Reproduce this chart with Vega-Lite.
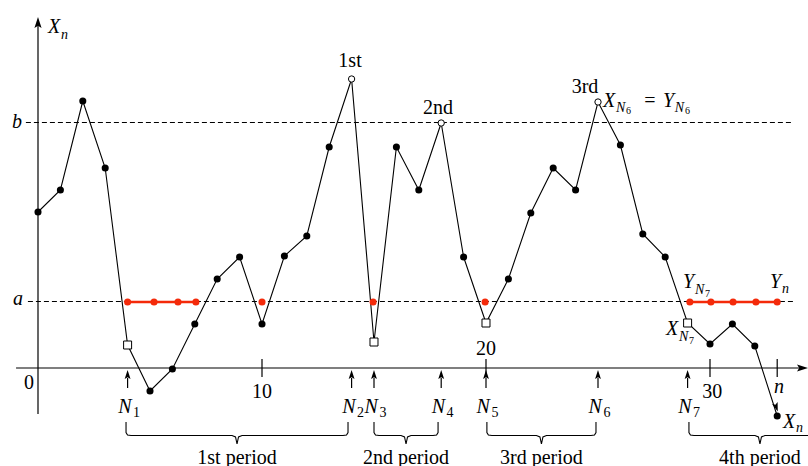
{
  "$schema": "https://vega.github.io/schema/vega-lite/v6.json",
  "width": 808,
  "height": 466,
  "autosize": {"type": "none"},
  "padding": 0,
  "background": "white",
  "config": {"view": {"stroke": null}},
  "datasets": {
    "series": [
      {"n": 0, "v": 15.6, "k": "dot"}, {"n": 1, "v": 17.8, "k": "dot"}, {"n": 2, "v": 26.7, "k": "dot"},
      {"n": 3, "v": 20.0, "k": "dot"}, {"n": 4, "v": 2.3, "k": "low"}, {"n": 5, "v": -2.3, "k": "dot"},
      {"n": 6, "v": -0.1, "k": "dot"}, {"n": 7, "v": 4.4, "k": "dot"}, {"n": 8, "v": 8.9, "k": "dot"},
      {"n": 9, "v": 11.1, "k": "dot"}, {"n": 10, "v": 4.4, "k": "dot"}, {"n": 11, "v": 11.2, "k": "dot"},
      {"n": 12, "v": 13.2, "k": "dot"}, {"n": 13, "v": 22.1, "k": "dot"}, {"n": 14, "v": 28.9, "k": "peak"},
      {"n": 15, "v": 2.6, "k": "low"}, {"n": 16, "v": 22.1, "k": "dot"}, {"n": 17, "v": 17.8, "k": "dot"},
      {"n": 18, "v": 24.5, "k": "peak"}, {"n": 19, "v": 11.1, "k": "dot"}, {"n": 20, "v": 4.5, "k": "low"},
      {"n": 21, "v": 8.9, "k": "dot"}, {"n": 22, "v": 15.5, "k": "dot"}, {"n": 23, "v": 20.0, "k": "dot"},
      {"n": 24, "v": 17.8, "k": "dot"}, {"n": 25, "v": 26.6, "k": "peak"}, {"n": 26, "v": 22.3, "k": "dot"},
      {"n": 27, "v": 13.4, "k": "dot"}, {"n": 28, "v": 11.1, "k": "dot"}, {"n": 29, "v": 4.5, "k": "low"},
      {"n": 30, "v": 2.4, "k": "dot"}, {"n": 31, "v": 4.4, "k": "dot"}, {"n": 32, "v": 2.2, "k": "dot"},
      {"n": 33, "v": -4.8, "k": "dot"}
    ],
    "red": [
      {"n": 4.0, "v": 6.6, "seg": 1}, {"n": 5.18, "v": 6.6, "seg": 1}, {"n": 6.25, "v": 6.6, "seg": 1},
      {"n": 7.05, "v": 6.6, "seg": 1}, {"n": 10, "v": 6.6, "seg": 0}, {"n": 14.96, "v": 6.6, "seg": 0},
      {"n": 19.96, "v": 6.6, "seg": 0}, {"n": 29.1, "v": 6.6, "seg": 2}, {"n": 30.04, "v": 6.6, "seg": 2},
      {"n": 31.03, "v": 6.6, "seg": 2}, {"n": 32.05, "v": 6.6, "seg": 2}, {"n": 33.0, "v": 6.6, "seg": 2}
    ],
    "dashed": [
      {"n": -0.54, "n2": 33.7, "v": 24.55, "v2": 24.55},
      {"n": -0.45, "n2": 33.8, "v": 6.65, "v2": 6.65}
    ],
    "rules": [
      {"n": 0, "n2": 0, "v": -4.6, "v2": 34.3},
      {"n": -0.98, "n2": 34.0, "v": 0, "v2": 0},
      {"n": 10, "n2": 10, "v": -0.9, "v2": 0.9},
      {"n": 20, "n2": 20, "v": -0.9, "v2": 0.9},
      {"n": 30, "n2": 30, "v": -0.9, "v2": 0.9},
      {"n": 33, "n2": 33, "v": -0.9, "v2": 0.9},
      {"n": 4, "n2": 4, "v": -2.0, "v2": -1.0},
      {"n": 14, "n2": 14, "v": -2.0, "v2": -1.0},
      {"n": 15, "n2": 15, "v": -2.0, "v2": -1.0},
      {"n": 18, "n2": 18, "v": -2.0, "v2": -1.0},
      {"n": 20, "n2": 20, "v": -2.0, "v2": -1.0},
      {"n": 25, "n2": 25, "v": -2.0, "v2": -1.0},
      {"n": 29, "n2": 29, "v": -2.0, "v2": -1.0}
    ],
    "narrows": [
      {"n": 4, "v": -0.65}, {"n": 14, "v": -0.65}, {"n": 15, "v": -0.65}, {"n": 18, "v": -0.65},
      {"n": 20, "v": -0.65}, {"n": 25, "v": -0.65}, {"n": 29, "v": -0.65}
    ],
    "yarrow": [{"n": 0, "v": 34.55}],
    "xarrow": [{"n": 34.13, "v": 0}],
    "endarrow": [{"n": 32.96, "v": -3.92}],
    "braces": [
      {"b": 1, "i": 0, "n": 3.93, "v": -5.4}, {"b": 1, "i": 1, "n": 3.93, "v": -6.45}, {"b": 1, "i": 2, "n": 3.997, "v": -6.7},
      {"b": 1, "i": 3, "n": 4.153, "v": -6.75}, {"b": 1, "i": 4, "n": 8.662, "v": -6.75}, {"b": 1, "i": 5, "n": 8.818, "v": -6.9},
      {"b": 1, "i": 6, "n": 8.885, "v": -7.6}, {"b": 1, "i": 7, "n": 8.952, "v": -6.9}, {"b": 1, "i": 8, "n": 9.108, "v": -6.75},
      {"b": 1, "i": 9, "n": 13.617, "v": -6.75}, {"b": 1, "i": 10, "n": 13.773, "v": -6.7}, {"b": 1, "i": 11, "n": 13.84, "v": -6.45},
      {"b": 1, "i": 12, "n": 13.84, "v": -5.4},
      {"b": 2, "i": 0, "n": 15.0, "v": -5.4}, {"b": 2, "i": 1, "n": 15.0, "v": -6.45}, {"b": 2, "i": 2, "n": 15.067, "v": -6.7},
      {"b": 2, "i": 3, "n": 15.223, "v": -6.75}, {"b": 2, "i": 4, "n": 16.207, "v": -6.75}, {"b": 2, "i": 5, "n": 16.363, "v": -6.9},
      {"b": 2, "i": 6, "n": 16.43, "v": -7.6}, {"b": 2, "i": 7, "n": 16.497, "v": -6.9}, {"b": 2, "i": 8, "n": 16.653, "v": -6.75},
      {"b": 2, "i": 9, "n": 17.637, "v": -6.75}, {"b": 2, "i": 10, "n": 17.793, "v": -6.7}, {"b": 2, "i": 11, "n": 17.86, "v": -6.45},
      {"b": 2, "i": 12, "n": 17.86, "v": -5.4},
      {"b": 3, "i": 0, "n": 20.04, "v": -5.4}, {"b": 3, "i": 1, "n": 20.04, "v": -6.45}, {"b": 3, "i": 2, "n": 20.107, "v": -6.7},
      {"b": 3, "i": 3, "n": 20.263, "v": -6.75}, {"b": 3, "i": 4, "n": 22.252, "v": -6.75}, {"b": 3, "i": 5, "n": 22.408, "v": -6.9},
      {"b": 3, "i": 6, "n": 22.475, "v": -7.6}, {"b": 3, "i": 7, "n": 22.542, "v": -6.9}, {"b": 3, "i": 8, "n": 22.698, "v": -6.75},
      {"b": 3, "i": 9, "n": 24.687, "v": -6.75}, {"b": 3, "i": 10, "n": 24.843, "v": -6.7}, {"b": 3, "i": 11, "n": 24.91, "v": -6.45},
      {"b": 3, "i": 12, "n": 24.91, "v": -5.4},
      {"b": 4, "i": 0, "n": 29.06, "v": -5.4}, {"b": 4, "i": 1, "n": 29.06, "v": -6.45}, {"b": 4, "i": 2, "n": 29.127, "v": -6.7},
      {"b": 4, "i": 3, "n": 29.283, "v": -6.75}, {"b": 4, "i": 4, "n": 32.007, "v": -6.75}, {"b": 4, "i": 5, "n": 32.163, "v": -6.9},
      {"b": 4, "i": 6, "n": 32.23, "v": -7.6}, {"b": 4, "i": 7, "n": 32.297, "v": -6.9}, {"b": 4, "i": 8, "n": 32.453, "v": -6.75},
      {"b": 4, "i": 9, "n": 35.177, "v": -6.75}, {"b": 4, "i": 10, "n": 35.333, "v": -6.7}, {"b": 4, "i": 11, "n": 35.4, "v": -6.45},
      {"b": 4, "i": 12, "n": 35.4, "v": -5.4}
    ],
    "labels": [
      {"t": "X", "n": 0.446, "v": 33.5, "k": "mi"},
      {"t": "b", "n": -1.16, "v": 24.0, "k": "mi"},
      {"t": "a", "n": -1.12, "v": 6.3, "k": "mi"},
      {"t": "n", "n": 32.86, "v": -2.5, "k": "mi"},
      {"t": "X", "n": 25.22, "v": 26.1, "k": "mi"},
      {"t": "Y", "n": 27.9, "v": 26.1, "k": "mi"},
      {"t": "Y", "n": 28.79, "v": 8.0, "k": "mi"},
      {"t": "Y", "n": 32.68, "v": 8.0, "k": "mi"},
      {"t": "X", "n": 28.04, "v": 3.3, "k": "mi"},
      {"t": "X", "n": 33.26, "v": -6.0, "k": "mi"},
      {"t": "N", "n": 3.58, "v": -4.5, "k": "mi"},
      {"t": "N", "n": 13.58, "v": -4.5, "k": "mi"},
      {"t": "N", "n": 14.58, "v": -4.5, "k": "mi"},
      {"t": "N", "n": 17.58, "v": -4.5, "k": "mi"},
      {"t": "N", "n": 19.58, "v": -4.5, "k": "mi"},
      {"t": "N", "n": 24.58, "v": -4.5, "k": "mi"},
      {"t": "N", "n": 28.58, "v": -4.5, "k": "mi"},
      {"t": "n", "n": 1.03, "v": 32.9, "k": "si"},
      {"t": "N", "n": 25.80, "v": 25.6, "k": "si"},
      {"t": "N", "n": 28.43, "v": 25.6, "k": "si"},
      {"t": "N", "n": 29.33, "v": 7.4, "k": "si"},
      {"t": "n", "n": 33.21, "v": 7.5, "k": "si"},
      {"t": "N", "n": 28.62, "v": 2.7, "k": "si"},
      {"t": "n", "n": 33.84, "v": -6.4, "k": "si"},
      {"t": "1", "n": 4.24, "v": -4.9, "k": "sr"},
      {"t": "2", "n": 14.24, "v": -4.9, "k": "sr"},
      {"t": "3", "n": 15.24, "v": -4.9, "k": "sr"},
      {"t": "4", "n": 18.24, "v": -4.9, "k": "sr"},
      {"t": "5", "n": 20.24, "v": -4.9, "k": "sr"},
      {"t": "6", "n": 25.24, "v": -4.9, "k": "sr"},
      {"t": "7", "n": 29.24, "v": -4.9, "k": "sr"},
      {"t": "6", "n": 26.25, "v": 25.4, "k": "ss"},
      {"t": "6", "n": 28.88, "v": 25.4, "k": "ss"},
      {"t": "7", "n": 29.78, "v": 7.1, "k": "ss"},
      {"t": "7", "n": 29.06, "v": 2.4, "k": "ss"},
      {"t": "0", "n": -0.40, "v": -2.1, "k": "rm"},
      {"t": "10", "n": 10, "v": -3.0, "k": "rm"},
      {"t": "20", "n": 20, "v": 1.3, "k": "rm"},
      {"t": "30", "n": 30.1, "v": -3.0, "k": "rm"},
      {"t": "1st", "n": 13.93, "v": 30.1, "k": "rm"},
      {"t": "2nd", "n": 17.86, "v": 25.4, "k": "rm"},
      {"t": "3rd", "n": 24.42, "v": 27.5, "k": "rm"},
      {"t": "=", "n": 27.32, "v": 26.1, "k": "rm"},
      {"t": "1st period", "n": 8.885, "v": -9.6, "k": "rm"},
      {"t": "2nd period", "n": 16.43, "v": -9.6, "k": "rm"},
      {"t": "3rd period", "n": 22.475, "v": -9.6, "k": "rm"},
      {"t": "4th period", "n": 32.23, "v": -9.6, "k": "rm"}
    ]
  },
  "encoding": {
    "x": {"field": "n", "type": "quantitative", "scale": {"domain": [-1.6964, 34.375], "nice": false, "zero": false}, "axis": null},
    "y": {"field": "v", "type": "quantitative", "scale": {"domain": [-9.8, 36.8], "nice": false, "zero": false}, "axis": null}
  },
  "layer": [
    {
      "data": {"name": "dashed"},
      "mark": {"type": "rule", "color": "black", "strokeWidth": 1, "strokeDash": [5, 3]},
      "encoding": {"x2": {"field": "n2"}, "y2": {"field": "v2"}}
    },
    {
      "data": {"name": "rules"},
      "mark": {"type": "rule", "color": "black", "strokeWidth": 1.2},
      "encoding": {"x2": {"field": "n2"}, "y2": {"field": "v2"}}
    },
    {
      "data": {"name": "narrows"},
      "mark": {"type": "point", "shape": "M0,-1L-0.65,1L0,0.6L0.65,1Z", "filled": true, "color": "black", "size": 81, "opacity": 1, "strokeWidth": 0}
    },
    {
      "data": {"name": "yarrow"},
      "mark": {"type": "point", "shape": "M0,-1L-0.65,1L0,0.6L0.65,1Z", "filled": true, "color": "black", "size": 121, "opacity": 1, "strokeWidth": 0}
    },
    {
      "data": {"name": "xarrow"},
      "mark": {"type": "point", "shape": "M1,0L-1,-0.65L-0.6,0L-1,0.65Z", "filled": true, "color": "black", "size": 121, "opacity": 1, "strokeWidth": 0}
    },
    {
      "data": {"name": "braces"},
      "mark": {"type": "line", "color": "black", "strokeWidth": 1.1},
      "encoding": {"detail": {"field": "b", "type": "nominal"}, "order": {"field": "i", "type": "quantitative"}}
    },
    {
      "data": {"name": "series"},
      "mark": {"type": "line", "color": "black", "strokeWidth": 1.1},
      "encoding": {"order": {"field": "n", "type": "quantitative"}}
    },
    {
      "data": {"name": "endarrow"},
      "mark": {"type": "point", "shape": "M0,1L-0.65,-1L0,-0.6L0.65,-1Z", "angle": 341, "filled": true, "color": "black", "size": 81, "opacity": 1, "strokeWidth": 0}
    },
    {
      "data": {"name": "red"},
      "transform": [{"filter": "datum.seg > 0"}],
      "mark": {"type": "line", "color": "#f42a0a", "strokeWidth": 2.5},
      "encoding": {"detail": {"field": "seg", "type": "nominal"}}
    },
    {
      "data": {"name": "red"},
      "mark": {"type": "point", "shape": "circle", "filled": true, "color": "#f42a0a", "size": 50, "opacity": 1}
    },
    {
      "data": {"name": "series"},
      "transform": [{"filter": "datum.k == 'dot'"}],
      "mark": {"type": "point", "shape": "circle", "filled": true, "color": "black", "size": 50, "opacity": 1}
    },
    {
      "data": {"name": "series"},
      "transform": [{"filter": "datum.k == 'peak'"}],
      "mark": {"type": "point", "shape": "circle", "filled": true, "fill": "white", "stroke": "black", "strokeWidth": 1, "size": 40, "opacity": 1}
    },
    {
      "data": {"name": "series"},
      "transform": [{"filter": "datum.k == 'low'"}],
      "mark": {"type": "point", "shape": "square", "filled": true, "fill": "white", "stroke": "black", "strokeWidth": 1, "size": 64, "opacity": 1}
    },
    {
      "data": {"name": "labels"},
      "transform": [{"filter": "datum.k == 'mi'"}],
      "mark": {"type": "text", "font": "Liberation Serif", "fontStyle": "italic", "fontSize": 20, "align": "left", "baseline": "alphabetic", "color": "black"},
      "encoding": {"text": {"field": "t"}}
    },
    {
      "data": {"name": "labels"},
      "transform": [{"filter": "datum.k == 'si'"}],
      "mark": {"type": "text", "font": "Liberation Serif", "fontStyle": "italic", "fontSize": 14, "align": "left", "baseline": "alphabetic", "color": "black"},
      "encoding": {"text": {"field": "t"}}
    },
    {
      "data": {"name": "labels"},
      "transform": [{"filter": "datum.k == 'sr'"}],
      "mark": {"type": "text", "font": "Liberation Serif", "fontSize": 14, "align": "left", "baseline": "alphabetic", "color": "black"},
      "encoding": {"text": {"field": "t"}}
    },
    {
      "data": {"name": "labels"},
      "transform": [{"filter": "datum.k == 'ss'"}],
      "mark": {"type": "text", "font": "Liberation Serif", "fontSize": 10, "align": "left", "baseline": "alphabetic", "color": "black"},
      "encoding": {"text": {"field": "t"}}
    },
    {
      "data": {"name": "labels"},
      "transform": [{"filter": "datum.k == 'rm'"}],
      "mark": {"type": "text", "font": "Liberation Serif", "fontSize": 20, "align": "center", "baseline": "alphabetic", "color": "black"},
      "encoding": {"text": {"field": "t"}}
    }
  ]
}
